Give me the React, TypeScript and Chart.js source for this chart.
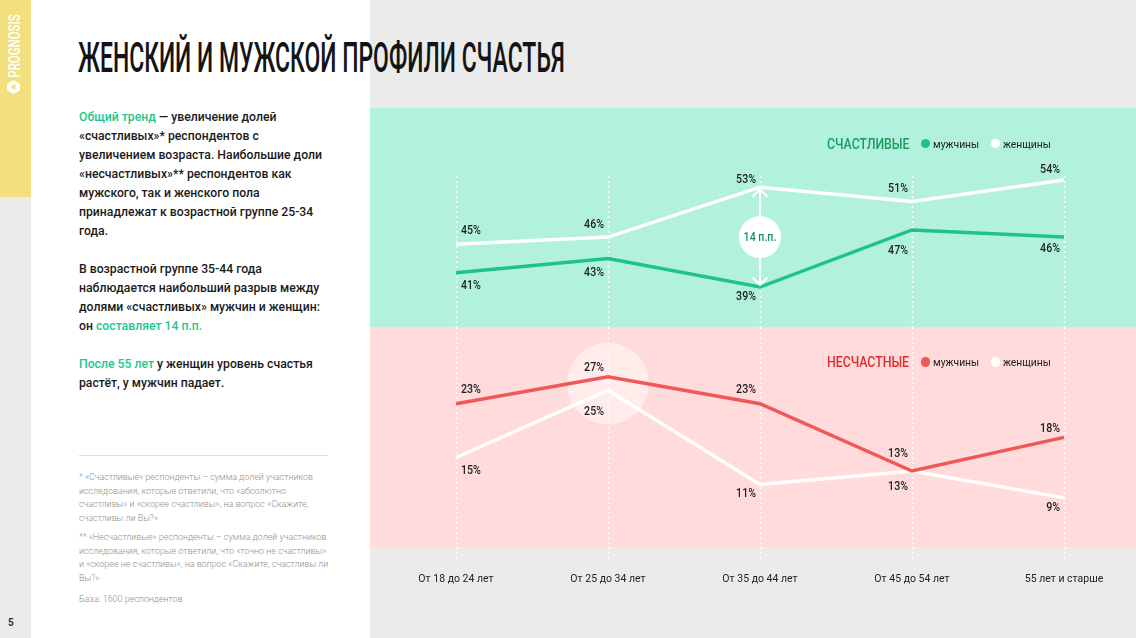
import React, { useEffect, useLayoutEffect, useRef } from "react";
import { Chart, registerables } from "chart.js";

Chart.register(...registerables);

// ---------- DATA ----------
const categories = [
  "От 18 до 24 лет",
  "От 25 до 34 лет",
  "От 35 до 44 лет",
  "От 45 до 54 лет",
  "55 лет и старше",
];
const happyMen = [41, 43, 39, 47, 46];
const happyWomen = [45, 46, 53, 51, 54];
const unhappyMen = [23, 27, 23, 13, 18];
const unhappyWomen = [15, 25, 11, 13, 9];

// label vertical offsets relative to the point (styling)
const happyMenDy = [13, 14, 10, 21, 12];
const happyWomenDy = [-13, -12, -7, -13, -10];
const unhappyMenDy = [-14, -9, -14, 16, -8];
const unhappyWomenDy = [13, 22, 9, -17, 10];

// ---------- STYLE ----------
const GREEN = "#1dc38b";
const RED = "#f05858";
const WHITE = "#ffffff";
const HILITE = "#22c78c";
const FONT = "Roboto, 'Noto Sans', sans-serif";

const guidePlugin = {
  id: "guides",
  beforeDatasetsDraw(chart: any, _args: any, opts: any) {
    const ctx = chart.ctx;
    const xs = chart.scales.x;
    ctx.save();
    ctx.setLineDash([2, 3]);
    ctx.lineWidth = 1.5;
    ctx.strokeStyle = "rgba(255,255,255,0.95)";
    categories.forEach((_c, i) => {
      const px = Math.round(xs.getPixelForValue(i)) + 0.5;
      ctx.beginPath();
      ctx.moveTo(px, opts.from);
      ctx.lineTo(px, opts.to);
      ctx.stroke();
    });
    ctx.restore();
  },
};

const pctLabelPlugin = {
  id: "pctLabels",
  afterDatasetsDraw(chart: any) {
    const ctx = chart.ctx;
    chart.data.datasets.forEach((ds: any, di: number) => {
      const meta = chart.getDatasetMeta(di);
      meta.data.forEach((pt: any, i: number) => {
        const first = i === 0;
        ctx.save();
        ctx.font = `500 12.5px ${FONT}`;
        ctx.fillStyle = "#1e1e1e";
        ctx.textBaseline = "middle";
        ctx.textAlign = first ? "left" : "right";
        ctx.translate(first ? pt.x + 5 : pt.x - 4, pt.y + ds.labelDy[i]);
        ctx.scale(0.85, 1);
        ctx.fillText(ds.data[i] + "%", 0, 0);
        ctx.restore();
      });
    });
  },
};

const highlightPlugin = {
  id: "highlight",
  beforeDatasetsDraw(chart: any) {
    const ctx = chart.ctx;
    const idx = 1;
    const a = chart.getDatasetMeta(0).data[idx];
    const b = chart.getDatasetMeta(1).data[idx];
    ctx.save();
    ctx.fillStyle = "rgba(255,255,255,0.45)";
    ctx.beginPath();
    ctx.arc(a.x, (a.y + b.y) / 2, 41, 0, Math.PI * 2);
    ctx.fill();
    ctx.restore();
  },
};

const gapPlugin = {
  id: "gap",
  afterDatasetsDraw(chart: any) {
    const ctx = chart.ctx;
    const idx = 2;
    const w = chart.getDatasetMeta(1).data[idx];
    const m = chart.getDatasetMeta(0).data[idx];
    const x = w.x;
    const y1 = w.y + 2;
    const y2 = m.y - 2;
    ctx.save();
    ctx.strokeStyle = WHITE;
    ctx.lineWidth = 2;
    ctx.lineCap = "round";
    ctx.lineJoin = "round";
    ctx.beginPath();
    ctx.moveTo(x, y1);
    ctx.lineTo(x, y2);
    ctx.moveTo(x - 7, y1 + 7);
    ctx.lineTo(x, y1);
    ctx.lineTo(x + 7, y1 + 7);
    ctx.moveTo(x - 7, y2 - 7);
    ctx.lineTo(x, y2);
    ctx.lineTo(x + 7, y2 - 7);
    ctx.stroke();
    const cy = (w.y + m.y) / 2;
    ctx.fillStyle = WHITE;
    ctx.beginPath();
    ctx.arc(x, cy, 21, 0, Math.PI * 2);
    ctx.fill();
    ctx.fillStyle = "#169160";
    ctx.font = `500 12.5px ${FONT}`;
    ctx.textAlign = "center";
    ctx.textBaseline = "middle";
    ctx.translate(x, cy + 0.5);
    ctx.scale(0.85, 1);
    ctx.fillText(`${happyWomen[idx] - happyMen[idx]} п.п.`, 0, 0);
    ctx.restore();
  },
};

function lineDs(label: string, data: number[], color: string, dy: number[]) {
  return {
    label,
    data,
    borderColor: color,
    backgroundColor: color,
    borderWidth: 3.5,
    pointRadius: 0,
    tension: 0,
    clip: false as any,
    labelDy: dy,
  } as any;
}

function baseOptions(yMin: number, yMax: number, guideFrom: number, guideTo: number, showX: boolean) {
  return {
    animation: false,
    responsive: true,
    maintainAspectRatio: false,
    events: [],
    layout: { padding: { left: 86, right: 72, top: 0, bottom: 0 } },
    plugins: {
      legend: { display: false },
      tooltip: { enabled: false },
      guides: { from: guideFrom, to: guideTo },
    },
    scales: {
      x: {
        type: "category",
        offset: false,
        display: showX,
        grid: { display: false, drawTicks: false },
        border: { display: false },
        ticks: {
          color: "#222",
          font: { family: FONT, size: 10.5 },
          padding: 26,
          maxRotation: 0,
          autoSkip: false,
        },
        afterFit: (s: any) => {
          if (showX) s.height = 91;
        },
      },
      y: { display: false, min: yMin, max: yMax },
    },
  } as any;
}

function useFitWidth(ref: React.RefObject<HTMLElement | null>, target: number, extra = "") {
  useLayoutEffect(() => {
    const el = ref.current;
    if (el) {
      const w = el.offsetWidth;
      el.style.transform = `${extra} scaleX(${target / w})`;
    }
  }, []);
}

export default function App() {
  const topRef = useRef<HTMLCanvasElement>(null);
  const botRef = useRef<HTMLCanvasElement>(null);
  const titleRef = useRef<HTMLSpanElement>(null);
  const brandRef = useRef<HTMLDivElement>(null);

  useFitWidth(titleRef, 487);
  useFitWidth(brandRef, 63, "translate(-50%, -50%) rotate(-90deg)");

  useEffect(() => {
    const top = new Chart(topRef.current!, {
      type: "line",
      data: {
        labels: categories,
        datasets: [
          lineDs("мужчины", happyMen, GREEN, happyMenDy),
          lineDs("женщины", happyWomen, WHITE, happyWomenDy),
        ],
      },
      options: baseOptions(33.4, 64.1, 68, 219, false),
      plugins: [guidePlugin, pctLabelPlugin, gapPlugin],
    } as any);
    const bot = new Chart(botRef.current!, {
      type: "line",
      data: {
        labels: categories,
        datasets: [
          lineDs("мужчины", unhappyMen, RED, unhappyMenDy),
          lineDs("женщины", unhappyWomen, WHITE, unhappyWomenDy),
        ],
      },
      options: baseOptions(1.7, 34.4, 0, 233, true),
      plugins: [highlightPlugin, guidePlugin, pctLabelPlugin],
    } as any);
    return () => {
      top.destroy();
      bot.destroy();
    };
  }, []);

  const para: React.CSSProperties = {
    margin: 0,
    whiteSpace: "nowrap",
  };
  const g = (t: string) => <span style={{ color: HILITE }}>{t}</span>;
  const foot: React.CSSProperties = { margin: 0, whiteSpace: "nowrap" };

  const legend = (title: string, titleColor: string, dotColor: string, cy: number) => (
    <>
      <div
        style={{
          position: "absolute",
          left: 827,
          top: cy - 10,
          height: 20,
          lineHeight: "20px",
          fontFamily: FONT,
          fontWeight: 500,
          fontSize: 15,
          color: titleColor,
          whiteSpace: "nowrap",
          transform: "scaleX(0.82)",
          transformOrigin: "left center",
        }}
      >
        {title}
      </div>
      <div style={{ position: "absolute", left: 921, top: cy - 4.7, width: 9.4, height: 9.4, borderRadius: "50%", background: dotColor }} />
      <div
        style={{
          position: "absolute",
          left: 933,
          top: cy - 9,
          height: 18,
          lineHeight: "18px",
          fontFamily: FONT,
          fontSize: 11.5,
          color: "#222",
          whiteSpace: "nowrap",
          transform: "scaleX(0.9)",
          transformOrigin: "left center",
        }}
      >
        мужчины
      </div>
      <div style={{ position: "absolute", left: 991, top: cy - 4.7, width: 9.4, height: 9.4, borderRadius: "50%", background: WHITE }} />
      <div
        style={{
          position: "absolute",
          left: 1003,
          top: cy - 9,
          height: 18,
          lineHeight: "18px",
          fontFamily: FONT,
          fontSize: 11.5,
          color: "#222",
          whiteSpace: "nowrap",
          transform: "scaleX(0.9)",
          transformOrigin: "left center",
        }}
      >
        женщины
      </div>
    </>
  );

  return (
    <div
      style={{
        position: "absolute",
        left: 0,
        top: 0,
        width: 1136,
        height: 638,
        overflow: "hidden",
        background: "#ebebeb",
        fontFamily: FONT,
      }}
    >
      {/* left strip */}
      <div style={{ position: "absolute", left: 0, top: 0, width: 31, height: 197, background: "#f2df7e" }} />
      <div
        ref={brandRef}
        style={{
          position: "absolute",
          left: 15,
          top: 46,
          fontFamily: FONT,
          fontWeight: 500,
          fontSize: 16,
          lineHeight: "16px",
          color: WHITE,
          whiteSpace: "nowrap",
          transformOrigin: "center center",
        }}
      >
        PROGNOSIS
      </div>
      <svg style={{ position: "absolute", left: 7, top: 80 }} width="13" height="14" viewBox="0 0 13 14">
        <polygon points="6.5,0 13,3.8 13,10.2 6.5,14 0,10.2 0,3.8" fill="#ffffff" />
        <polygon points="8.5,3.8 8.5,10.2 3.6,7" fill="#f2df7e" />
      </svg>
      <div
        style={{
          position: "absolute",
          left: 8,
          top: 614,
          fontSize: 10,
          fontWeight: 700,
          color: "#333",
          lineHeight: "18px",
        }}
      >
        5
      </div>

      {/* white panel */}
      <div style={{ position: "absolute", left: 31, top: 0, width: 339, height: 638, background: "#ffffff" }} />

      {/* title */}
      <div
        style={{
          position: "absolute",
          left: 78,
          top: 36.6,
          height: 42,
          lineHeight: "42px",
          whiteSpace: "nowrap",
        }}
      >
        <span
          ref={titleRef}
          style={{
            display: "inline-block",
            fontFamily: FONT,
            fontWeight: 500,
            fontSize: 42,
            color: "#141414",
            transformOrigin: "left center",
            letterSpacing: 0,
          }}
        >
          ЖЕНСКИЙ И МУЖСКОЙ ПРОФИЛИ СЧАСТЬЯ
        </span>
      </div>

      {/* left text */}
      <div
        style={{
          position: "absolute",
          left: 79,
          top: 106.5,
          fontSize: 13,
          lineHeight: "19px",
          fontWeight: 500,
          color: "#1b1b1b",
          transform: "scaleX(0.94)",
          transformOrigin: "left top",
        }}
      >
        <p style={para}>
          {g("Общий тренд")} — увеличение долей
          <br />
          «счастливых»* респондентов с
          <br />
          увеличением возраста. Наибольшие доли
          <br />
          «несчастливых»** респондентов как
          <br />
          мужского, так и женского пола
          <br />
          принадлежат к возрастной группе 25-34
          <br />
          года.
        </p>
        <p style={{ ...para, marginTop: 19 }}>
          В возрастной группе 35-44 года
          <br />
          наблюдается наибольший разрыв между
          <br />
          долями «счастливых» мужчин и женщин:
          <br />
          он {g("составляет 14 п.п.")}
        </p>
        <p style={{ ...para, marginTop: 19 }}>
          {g("После 55 лет")} у женщин уровень счастья
          <br />
          растёт, у мужчин падает.
        </p>
      </div>

      <div style={{ position: "absolute", left: 79, top: 455, width: 249, height: 1, background: "#dedede" }} />

      <div
        style={{
          position: "absolute",
          left: 79,
          top: 471,
          fontSize: 9,
          lineHeight: "13.7px",
          fontWeight: 300,
          color: "#8f8f8f",
          transform: "scaleX(0.99)",
          transformOrigin: "left top",
        }}
      >
        <p style={foot}>
          * «Счастливые» респонденты – сумма долей участников
          <br />
          исследования, которые ответили, что «абсолютно
          <br />
          счастливы» и «скорее счастливы», на вопрос «Скажите,
          <br />
          счастливы ли Вы?»
        </p>
        <p style={{ ...foot, marginTop: 5 }}>
          ** «Несчастливые» респонденты – сумма долей участников
          <br />
          исследования, которые ответили, что «точно не счастливы»
          <br />
          и «скорее не счастливы», на вопрос «Скажите, счастливы ли
          <br />
          Вы?»
        </p>
        <p style={{ ...foot, marginTop: 7 }}>База: 1600 респондентов</p>
      </div>

      {/* chart bands */}
      <div style={{ position: "absolute", left: 370, top: 108, width: 766, height: 219, background: "#b1f1de" }} />
      <div style={{ position: "absolute", left: 370, top: 327, width: 766, height: 220, background: "#ffdcdb" }} />

      <div style={{ position: "absolute", left: 370, top: 108, width: 766, height: 219 }}>
        <canvas ref={topRef} />
      </div>
      <div style={{ position: "absolute", left: 370, top: 327, width: 766, height: 311 }}>
        <canvas ref={botRef} />
      </div>

      {legend("СЧАСТЛИВЫЕ", "#1b9a62", GREEN, 143.5)}
      {legend("НЕСЧАСТНЫЕ", "#df2a30", RED, 362)}
    </div>
  );
}
